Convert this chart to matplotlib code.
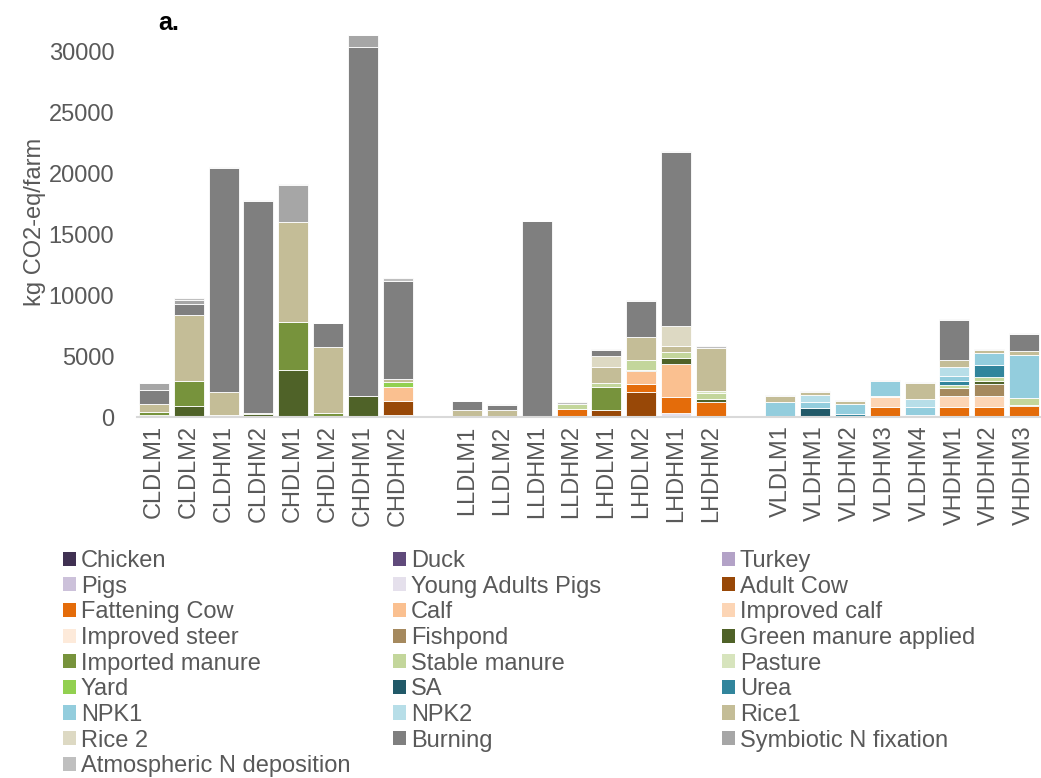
import numpy as np
import matplotlib
matplotlib.use('Agg')
import matplotlib.pyplot as plt
from matplotlib.patches import Patch

plt.rcParams['font.family'] = ['Liberation Sans', 'DejaVu Sans']

# farm types, three groups
groups = [
    ['CLDLM1', 'CLDLM2', 'CLDHM1', 'CLDHM2', 'CHDLM1', 'CHDLM2', 'CHDHM1', 'CHDHM2'],
    ['LLDLM1', 'LLDLM2', 'LLDHM1', 'LLDHM2', 'LHDLM1', 'LHDLM2', 'LHDHM1', 'LHDHM2'],
    ['VLDLM1', 'VLDHM1', 'VLDHM2', 'VLDHM3', 'VLDHM4', 'VHDHM1', 'VHDHM2', 'VHDHM3'],
]

z8 = [0] * 8

# kg CO2-eq/farm per source, in order of the bars above
chicken = z8 + z8 + z8
duck = z8 + z8 + z8
turkey = z8 + z8 + z8
pigs = z8 + z8 + z8
young_adult_pigs = [0, 0, 0, 0, 0, 0, 0, 190] + [0, 0, 0, 0, 0, 0, 350, 0] + z8
adult_cow = [0, 0, 0, 0, 0, 0, 0, 1120] + [0, 0, 0, 0, 600, 2030, 0, 0] + z8
fattening_cow = z8 + [0, 0, 0, 690, 0, 690, 1310, 1260] + [0, 0, 0, 790, 0, 790, 790, 880]
calf = [0, 0, 0, 0, 0, 0, 0, 1180] + [0, 0, 0, 0, 0, 1040, 2690, 0] + z8
improved_calf = z8 + z8 + [0, 0, 0, 880, 0, 930, 900, 0]
improved_steer = z8 + z8 + z8
fishpond = z8 + z8 + [0, 0, 0, 0, 0, 680, 1040, 0]
green_manure = [150, 875, 100, 220, 3900, 0, 1710, 0] + [0, 0, 0, 0, 0, 110, 490, 220] + [0, 0, 0, 0, 110, 0, 190, 140]
imported_manure = [250, 2080, 0, 80, 3920, 310, 0, 0] + [0, 0, 0, 0, 1890, 0, 0, 0] + z8
stable_manure = [50, 0, 50, 0, 0, 0, 0, 0] + [40, 30, 0, 410, 300, 820, 490, 470] + [60, 0, 0, 0, 80, 270, 360, 520]
pasture = z8 + [0, 0, 0, 0, 0, 0, 0, 160] + [0, 0, 0, 80, 0, 0, 0, 0]
yard = [0, 0, 0, 0, 0, 0, 0, 410] + z8 + z8
sa = z8 + z8 + [0, 770, 0, 0, 0, 0, 0, 0]
urea = z8 + z8 + [0, 0, 250, 0, 0, 250, 990, 0]
npk1 = z8 + z8 + [1150, 490, 820, 1180, 600, 470, 990, 3530]
npk2 = z8 + z8 + [0, 575, 0, 0, 660, 740, 0, 0]
rice1 = [630, 5420, 1890, 0, 8190, 5420, 0, 250] + [575, 550, 120, 0, 1340, 1890, 490, 3530] + [550, 250, 275, 0, 1370, 550, 270, 380]
rice2 = z8 + [0, 0, 0, 0, 850, 0, 1670, 0] + z8
burning = [1120, 930, 18430, 17450, 0, 1970, 28680, 8030] + [660, 440, 15970, 0, 550, 2960, 14270, 0] + [0, 0, 0, 0, 0, 3310, 0, 1370]
symbiotic = [575, 300, 0, 0, 3070, 0, 960, 0] + z8 + z8
atm_dep = [0, 140, 80, 60, 50, 40, 60, 270] + [40, 40, 40, 130, 60, 80, 80, 160] + [80, 80, 80, 110, 80, 80, 80, 80]

series = [
    ('Chicken', chicken), ('Duck', duck), ('Turkey', turkey),
    ('Pigs', pigs), ('Young Adults Pigs', young_adult_pigs), ('Adult Cow', adult_cow),
    ('Fattening Cow', fattening_cow), ('Calf', calf), ('Improved calf', improved_calf),
    ('Improved steer', improved_steer), ('Fishpond', fishpond), ('Green manure applied', green_manure),
    ('Imported manure', imported_manure), ('Stable manure', stable_manure), ('Pasture', pasture),
    ('Yard', yard), ('SA', sa), ('Urea', urea),
    ('NPK1', npk1), ('NPK2', npk2), ('Rice1', rice1),
    ('Rice 2', rice2), ('Burning', burning), ('Symbiotic N fixation', symbiotic),
    ('Atmospheric N deposition', atm_dep),
]

colors = ['#403152', '#604a7b', '#b3a2c7', '#ccc1da', '#e5e0ec', '#984807',
          '#e46c0a', '#fac090', '#fcd5b5', '#fdeada', '#a5895e', '#4f6228',
          '#77933c', '#c3d69b', '#d7e4bd', '#92d050', '#215968', '#31859c',
          '#93cddd', '#b7dee8', '#c4bd97', '#ddd9c3', '#7f7f7f', '#a6a6a6',
          '#bfbfbf']

txt = '#595959'

# x positions: one empty slot between groups
labels, xpos = [], []
for g, names in enumerate(groups):
    for i, n in enumerate(names):
        labels.append(n)
        xpos.append(g * 9 + i)
xpos = np.array(xpos)

fig = plt.figure(figsize=(10.41, 7.78), dpi=100)
ax = fig.add_axes([0.1312, 0.4640, 0.8692, 0.5006])

bottom = np.zeros(len(xpos))
handles = []
for (name, vals), c in zip(series, colors):
    v = np.array(vals, dtype=float)
    ax.bar(xpos, v, bottom=bottom, width=0.86, color=c, edgecolor='white', linewidth=0.6)
    bottom += v
    handles.append(Patch(facecolor=c, edgecolor='none', label=name))

ax.set_xlim(-0.5, 25.5)
ax.set_ylim(0, 32000)
ax.set_yticks(np.arange(0, 30001, 5000))
ax.set_xticks(xpos)
ax.set_xticklabels(labels, rotation=90)
ax.tick_params(axis='both', length=0, labelsize=17, colors=txt)
ax.tick_params(axis='x', pad=6)
ax.tick_params(axis='y', pad=16)
for s in ['top', 'right', 'left']:
    ax.spines[s].set_visible(False)
ax.spines['bottom'].set_color('#d9d9d9')
ax.spines['bottom'].set_linewidth(1.5)
ax.set_ylabel('kg CO2-eq/farm', fontsize=17, color=txt, labelpad=2)

fig.text(0.152, 0.97, 'a.', fontsize=18, fontweight='bold', va='center', ha='left')

# legend: three columns, filled row by row
col_x = [63, 393, 722]
for k in range(3):
    fig.legend(handles=handles[k::3], loc='upper left',
               bbox_to_anchor=(col_x[k] / 1041, 1 - 550 / 778),
               frameon=False, fontsize=17, labelcolor=txt,
               handlelength=0.55, handleheight=0.55, handletextpad=0.2,
               labelspacing=0.155, borderpad=0, borderaxespad=0)

fig.savefig('out.png', dpi=100)
